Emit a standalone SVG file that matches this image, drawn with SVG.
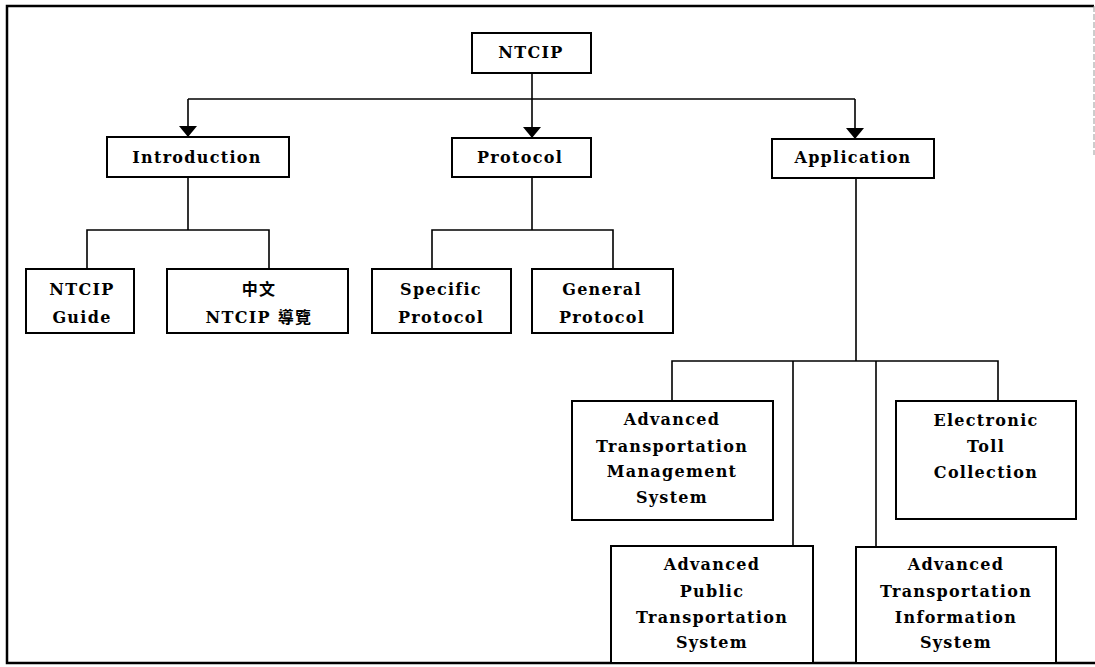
<svg xmlns="http://www.w3.org/2000/svg" width="1095" height="667" viewBox="0 0 1095 667">
  <style>
    .box { fill: #ffffff; stroke: #000000; stroke-width: 2; }
    .wire { fill: none; stroke: #000000; stroke-width: 1.6; }
    .frame { fill: none; stroke: #000000; stroke-width: 2.5; }
    .lbl { font-family: "DejaVu Serif", "Noto Sans CJK TC", serif; font-size: 16px; font-weight: bold; fill: #000000; text-anchor: middle; letter-spacing: 1.3px; }
  </style>
  <defs>
    <marker id="arrow" markerUnits="userSpaceOnUse" markerWidth="12" markerHeight="18" refX="11" refY="9" orient="auto">
      <path d="M0,0 L11,9 L0,18 Z" fill="#000000"/>
    </marker>
  </defs>
  <rect width="1095" height="667" fill="#ffffff"/>

  <!-- outer frame -->
  <g id="frame">
    <path class="frame" d="M1094,6 H7 V663 H1095"/>
    <path d="M1094,6 V155" fill="none" stroke="#9a9a9a" stroke-width="1" stroke-dasharray="6 2"/>
  </g>

  <!-- connectors -->
  <g id="connectors">
    <path class="wire" d="M532,73 V138" marker-end="url(#arrow)"/>
    <path class="wire" d="M188,99 H855"/>
    <path class="wire" d="M188,99 V137" marker-end="url(#arrow)"/>
    <path class="wire" d="M855,99 V139" marker-end="url(#arrow)"/>
    <path class="wire" d="M188,177 V230 M87,269 V230 H269 V269"/>
    <path class="wire" d="M532,177 V230 M432,269 V230 H613 V269"/>
    <path class="wire" d="M856,178 V361 M672,401 V361 H998 V401 M793,361 V546 M876,361 V547"/>
  </g>

  <g id="ntcip">
    <rect class="box" x="472" y="33" width="119" height="40"/>
    <text class="lbl" x="531" y="58">NTCIP</text>
  </g>
  <g id="introduction">
    <rect class="box" x="107" y="137" width="182" height="40"/>
    <text class="lbl" x="197" y="163">Introduction</text>
  </g>
  <g id="protocol">
    <rect class="box" x="452" y="138" width="139" height="39"/>
    <text class="lbl" x="520" y="163">Protocol</text>
  </g>
  <g id="application">
    <rect class="box" x="772" y="139" width="162" height="39"/>
    <text class="lbl" x="853" y="163">Application</text>
  </g>
  <g id="ntcip-guide">
    <rect class="box" x="26" y="269" width="108" height="64"/>
    <text class="lbl" x="82" y="295">NTCIP</text>
    <text class="lbl" x="82" y="323">Guide</text>
  </g>
  <g id="ntcip-guide-zh">
    <rect class="box" x="167" y="269" width="181" height="64"/>
    <text class="lbl" x="259" y="295">中文</text>
    <text class="lbl" x="259" y="323">NTCIP 導覽</text>
  </g>
  <g id="specific-protocol">
    <rect class="box" x="372" y="269" width="139" height="64"/>
    <text class="lbl" x="441" y="295">Specific</text>
    <text class="lbl" x="441" y="323">Protocol</text>
  </g>
  <g id="general-protocol">
    <rect class="box" x="532" y="269" width="141" height="64"/>
    <text class="lbl" x="602" y="295">General</text>
    <text class="lbl" x="602" y="323">Protocol</text>
  </g>
  <g id="atms">
    <rect class="box" x="572" y="401" width="201" height="119"/>
    <text class="lbl" x="672" y="425">Advanced</text>
    <text class="lbl" x="672" y="452">Transportation</text>
    <text class="lbl" x="672" y="477">Management</text>
    <text class="lbl" x="672" y="503">System</text>
  </g>
  <g id="etc">
    <rect class="box" x="896" y="401" width="180" height="118"/>
    <text class="lbl" x="986" y="426">Electronic</text>
    <text class="lbl" x="986" y="452">Toll</text>
    <text class="lbl" x="986" y="478">Collection</text>
  </g>
  <g id="apts">
    <rect class="box" x="611" y="546" width="202" height="117"/>
    <text class="lbl" x="712" y="570">Advanced</text>
    <text class="lbl" x="712" y="597">Public</text>
    <text class="lbl" x="712" y="623">Transportation</text>
    <text class="lbl" x="712" y="648">System</text>
  </g>
  <g id="atis">
    <rect class="box" x="856" y="547" width="200" height="116"/>
    <text class="lbl" x="956" y="570">Advanced</text>
    <text class="lbl" x="956" y="597">Transportation</text>
    <text class="lbl" x="956" y="623">Information</text>
    <text class="lbl" x="956" y="648">System</text>
  </g>
</svg>
